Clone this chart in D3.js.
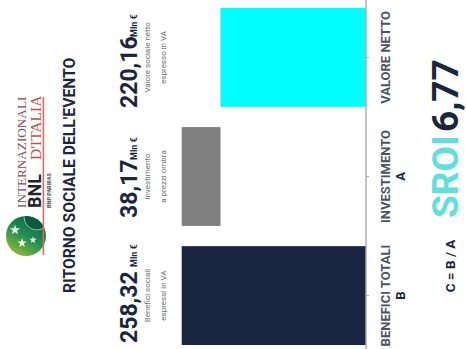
<!DOCTYPE html>
<html>
<head>
<meta charset="utf-8">
<script src="https://cdn.jsdelivr.net/npm/d3@7"></script>
<style>
  html, body { margin: 0; padding: 0; background: #fff; }
  svg { display: block; }
  text { font-family: Roboto, "Noto Sans", sans-serif; }
</style>
</head>
<body>
<svg id="chart" width="466" height="349"></svg>
<script>
// Waterfall read sideways: values grow towards the left, text runs bottom to top.
const categories = ["Benefici totali", "Investimento", "Valore netto"];
const axisLines = [["BENEFICI TOTALI", "B"], ["INVESTIMENTO", "A"], ["VALORE NETTO"]];
const barStart = [76.9, 220.16, 76.9];
const barEnd = [258.32, 258.32, 220.16];
const statValues = ["258,32", "38,17", "220,16"];
const statNotes = [["Benefici sociali", "espressi in VA"], ["Investimento", "a prezzi ombra"], ["Valore sociale netto", "espresso in VA"]];
const barColours = ["#1a2640", "#808080", "#00ffff"];
const valueDomain = [76.9, 258.32];

const navy = "#1a2640";
const svg = d3.select("#chart");

const x = d3.scaleLinear().domain(valueDomain).range([366, 181.7]);
const y = d3.scaleBand().domain(categories).range([345, 8]).paddingInner(0.17).paddingOuter(0);

// Bars
svg.append("g").selectAll("rect").data(categories).join("rect")
  .attr("x", (d, i) => x(barEnd[i]))
  .attr("width", (d, i) => x(barStart[i]) - x(barEnd[i]))
  .attr("y", d => y(d))
  .attr("height", y.bandwidth())
  .attr("fill", (d, i) => barColours[i]);

// Category axis on the right of the bars
const axis = svg.append("g").attr("transform", `translate(${x(valueDomain[0])},0)`)
  .call(d3.axisRight(y).tickSize(3).tickFormat(""));
axis.select(".domain").attr("stroke", "#a9adb5").attr("stroke-width", 1.4).attr("d", "M0,0V349");
axis.selectAll(".tick line").attr("stroke", "#a9adb5");

// Helper for text turned 90 degrees anticlockwise
function turned(px, py, str, opts) {
  const o = opts || {};
  return svg.append("text")
    .attr("transform", `translate(${px},${py}) rotate(-90)`)
    .attr("text-anchor", o.anchor || "middle")
    .attr("font-size", o.size || 10)
    .attr("font-weight", o.weight || 400)
    .attr("fill", o.fill || navy)
    .style("font-family", o.family || null)
    .text(str);
}

// Category labels
categories.forEach((c, i) => {
  const cy = y(c) + y.bandwidth() / 2;
  axisLines[i].forEach((line, j) => {
    turned(j ? 405 : 390, cy, line, { size: 13, weight: 700, fill: j ? navy : "#4a5268" });
  });
});

// Headline figures and their notes above each bar
const statBottoms = [343, 218, 108];
const unitBottoms = [267, 160, 37];
categories.forEach((c, i) => {
  turned(137, statBottoms[i], statValues[i], { anchor: "start", size: 23, weight: 700 });
  turned(137, unitBottoms[i], "Mln €", { anchor: "start", size: 9, weight: 700 });
  const cy = y(c) + y.bandwidth() / 2;
  statNotes[i].forEach((line, j) => {
    turned(150 + j * 16, cy, line, { size: 8, fill: "#6a7080" });
  });
});

// Title
turned(75, 293, "RITORNO SOCIALE DELL'EVENTO", { anchor: "start", size: 15.7, weight: 700 });

// SROI summary
turned(455, 266, "C = B / A", { size: 13.5, weight: 700 });
turned(458, 218, "SROI", { anchor: "start", size: 37, weight: 700, fill: "#5fdfe0" });
turned(458, 132, "6,77", { anchor: "start", size: 37, weight: 700 });

// Event logo: ball with a seam and white stars, rule, and wordmark
const defs = svg.append("defs");
const grad = defs.append("linearGradient").attr("id", "ball").attr("x1", 0.2).attr("y1", 1).attr("x2", 0.8).attr("y2", 0);
grad.append("stop").attr("offset", "0%").attr("stop-color", "#9dbb2e");
grad.append("stop").attr("offset", "50%").attr("stop-color", "#1f8f55");
grad.append("stop").attr("offset", "100%").attr("stop-color", "#0a5f40");
defs.append("clipPath").attr("id", "ballClip").append("circle").attr("cx", 26).attr("cy", 236).attr("r", 20);
svg.append("circle").attr("cx", 26).attr("cy", 236).attr("r", 20).attr("fill", "url(#ball)");
svg.append("circle").attr("cx", 37).attr("cy", 217).attr("r", 13)
  .attr("clip-path", "url(#ballClip)")
  .attr("fill", "#0b5a3f").attr("stroke", "#8fc4a8").attr("stroke-width", 1);
const star = d3.symbol().type(d3.symbolStar);
[[15, 230, 32], [22, 243, 28], [33, 240, 16]].forEach(s => {
  svg.append("path").attr("d", star.size(s[2])()).attr("transform", `translate(${s[0]},${s[1]})`).attr("fill", "#f2f7ee");
});
svg.append("rect").attr("x", 42.6).attr("y", 97).attr("width", 1.6).attr("height", 158).attr("fill", "#e0695c");
turned(25.5, 208, "INTERNAZIONALI", { anchor: "start", size: 13.2, fill: "#8a4a52", family: "'Liberation Serif', serif" });
turned(41, 208, "BNL", { anchor: "start", size: 18, weight: 700, fill: "#222" });
turned(41, 160, "D'ITALIA", { anchor: "start", size: 15.5, fill: "#c0504a", family: "'Liberation Serif', serif" });
turned(51, 208, "BNP PARIBAS", { anchor: "start", size: 5.5, weight: 700, fill: "#555" });
</script>
</body>
</html>
